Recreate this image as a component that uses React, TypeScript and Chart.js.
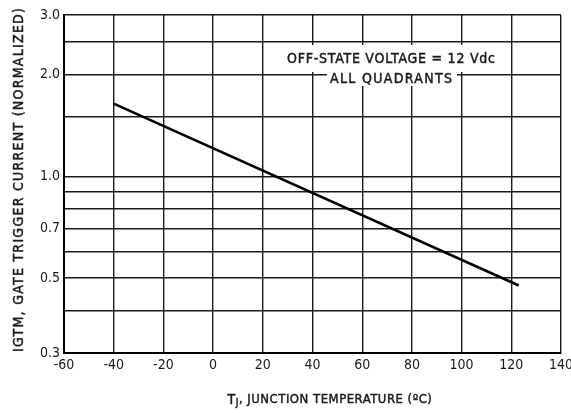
import { useEffect, useRef } from "react";
import { Chart, registerables } from "chart.js";

Chart.register(...registerables);

// ---- data ----
const temperatures = [-40, 123];
const normalizedCurrent = [1.64, 0.475];
const xMin = -60;
const xMax = 140;
const xStep = 20;
const yGridValues = [0.3, 0.4, 0.5, 0.6, 0.7, 0.8, 0.9, 1.0, 1.5, 2.0, 2.5, 3.0];
const yLabelValues = [0.3, 0.5, 0.7, 1.0, 2.0, 3.0];
const yLabelTexts = ["0.3", "0.5", "0.7", "1.0", "2.0", "3.0"];
const noteLines = ["OFF-STATE VOLTAGE = 12 Vdc", "ALL QUADRANTS"];
const yTitle = "IGTM, GATE TRIGGER CURRENT (NORMALIZED)";
const xTitleMain = "T";
const xTitleSub = "J";
const xTitleRest = ", JUNCTION TEMPERATURE (ºC)";

const FONT_FAMILY = "'DejaVu Sans Condensed', 'Liberation Sans Narrow', 'DejaVu Sans', sans-serif";
const INK = "#1a1a1a";

function drawFit(ctx: CanvasRenderingContext2D, text: string, cx: number, cy: number, target: number) {
  (ctx as any).letterSpacing = "0px";
  const base = ctx.measureText(text).width;
  const sp = (target - base) / Math.max(1, text.length - 1);
  (ctx as any).letterSpacing = sp + "px";
  const w = ctx.measureText(text).width - sp;
  ctx.textAlign = "left";
  ctx.textBaseline = "middle";
  ctx.lineWidth = 0.45;
  ctx.strokeStyle = INK;
  ctx.fillText(text, cx - w / 2, cy);
  ctx.strokeText(text, cx - w / 2, cy);
  (ctx as any).letterSpacing = "0px";
}

const decorPlugin = {
  id: "decor",
  afterDraw(chart: any) {
    const ctx: CanvasRenderingContext2D = chart.ctx;
    ctx.save();
    // note box
    ctx.fillStyle = "#fff";
    ctx.fillRect(282, 45, 220, 27);
    ctx.fillRect(327, 71, 130, 15);
    ctx.fillStyle = INK;
    ctx.font = `14px ${FONT_FAMILY}`;
    drawFit(ctx, noteLines[0], 391, 59, 208);
    drawFit(ctx, noteLines[1], 391, 79, 122);

    // y title
    ctx.save();
    ctx.translate(19, 180);
    ctx.rotate(-Math.PI / 2);
    ctx.font = `14px ${FONT_FAMILY}`;
    drawFit(ctx, yTitle, 0, 0, 344);
    ctx.restore();

    // x title with subscript
    ctx.textBaseline = "middle";
    ctx.textAlign = "left";
    ctx.lineWidth = 0.45;
    ctx.strokeStyle = INK;
    (ctx as any).letterSpacing = "0.5px";
    ctx.font = `14px ${FONT_FAMILY}`;
    const wMain = ctx.measureText(xTitleMain).width;
    ctx.font = `10px ${FONT_FAMILY}`;
    const wSub = ctx.measureText(xTitleSub).width;
    ctx.font = `13px ${FONT_FAMILY}`;
    const wRest = ctx.measureText(xTitleRest).width;
    const total = wMain + wSub + wRest;
    let x = 330 - total / 2;
    const y = 400;
    ctx.font = `14px ${FONT_FAMILY}`;
    ctx.fillText(xTitleMain, x, y);
    ctx.strokeText(xTitleMain, x, y);
    x += wMain;
    ctx.font = `10px ${FONT_FAMILY}`;
    ctx.fillText(xTitleSub, x, y + 3);
    ctx.strokeText(xTitleSub, x, y + 3);
    x += wSub;
    ctx.font = `13px ${FONT_FAMILY}`;
    ctx.fillText(xTitleRest, x, y);
    ctx.strokeText(xTitleRest, x, y);
    (ctx as any).letterSpacing = "0px";
    ctx.restore();
  },
};

export default function App() {
  const ref = useRef<HTMLCanvasElement | null>(null);

  useEffect(() => {
    if (!ref.current) return;
    const chart = new Chart(ref.current, {
      type: "line",
      data: {
        datasets: [
          {
            data: temperatures.map((t, i) => ({ x: t, y: normalizedCurrent[i] })),
            borderColor: "#000",
            borderWidth: 2.6,
            pointRadius: 0,
            fill: false,
            tension: 0,
          },
        ],
      },
      options: {
        responsive: false,
        animation: false,
        events: [],
        layout: { padding: { left: 0, right: 10, top: 15, bottom: 0 } },
        plugins: { legend: { display: false }, tooltip: { enabled: false } },
        scales: {
          x: {
            type: "linear",
            min: xMin,
            max: xMax,
            ticks: {
              stepSize: xStep,
              color: INK,
              font: { family: FONT_FAMILY, size: 14 },
              padding: 4,
              maxRotation: 0,
              autoSkip: false,
            },
            grid: { color: "#1a1a1a", lineWidth: 1.4, drawTicks: false },
            border: { color: "#000", width: 2 },
            afterFit: (s: any) => {
              s.height = 60;
              s.paddingLeft = 0;
              s.paddingRight = 0;
            },
          },
          y: {
            type: "logarithmic",
            min: 0.3,
            max: 3.0,
            afterBuildTicks: (s: any) => {
              s.ticks = yGridValues.map((v) => ({ value: v }));
            },
            ticks: {
              autoSkip: false,
              color: INK,
              font: { family: FONT_FAMILY, size: 14 },
              padding: 4,
              callback: (v: any) => {
                const i = yLabelValues.findIndex((l) => Math.abs(l - Number(v)) < 1e-6);
                return i >= 0 ? yLabelTexts[i] : "";
              },
            },
            grid: { color: "#1a1a1a", lineWidth: 1.4, drawTicks: false },
            border: { color: "#000", width: 2 },
            afterFit: (s: any) => {
              s.width = 64;
              s.paddingTop = 0;
              s.paddingBottom = 0;
            },
          },
        },
      },
      plugins: [decorPlugin],
    });
    return () => chart.destroy();
  }, []);

  return (
    <div style={{ position: "absolute", left: 0, top: 0, width: 571, height: 413, background: "#fff" }}>
      <canvas ref={ref} width={571} height={413} style={{ display: "block" }} />
    </div>
  );
}
